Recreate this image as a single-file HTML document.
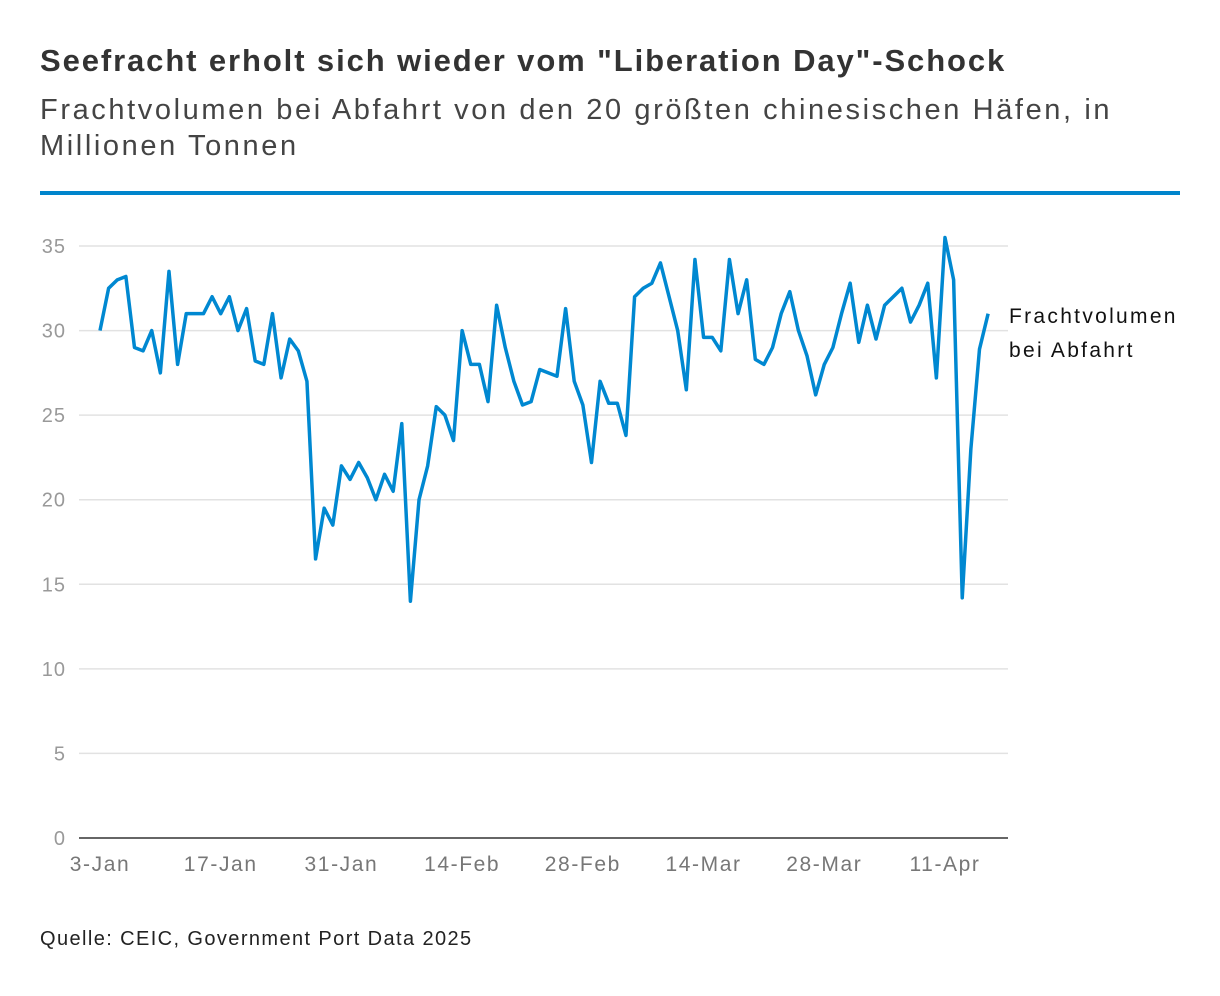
<!DOCTYPE html>
<html><head><meta charset="utf-8"><style>
body{margin:0;background:#fff;width:1220px;height:996px;overflow:hidden;font-family:"Liberation Sans","DejaVu Sans",sans-serif;color:#333}
.t{position:absolute;left:40px;top:43px;font-size:31px;font-weight:bold;color:#333;letter-spacing:1.9px;white-space:nowrap}
.s{position:absolute;left:40px;top:92px;font-size:29px;line-height:36px;color:#444;letter-spacing:2.6px;white-space:nowrap}
.rule{position:absolute;left:40px;top:191px;width:1140px;height:4px;background:#0085cc}
.src{position:absolute;left:40px;top:928px;font-size:20px;color:#222;letter-spacing:1.4px}
svg{position:absolute;left:0;top:0}
</style></head><body>
<div class="t">Seefracht erholt sich wieder vom "Liberation Day"-Schock</div>
<div class="s">Frachtvolumen bei Abfahrt von den 20 größten chinesischen Häfen, in<br>Millionen Tonnen</div>
<div class="rule"></div>
<svg id="c" width="1220" height="996"></svg>
<div class="src">Quelle: CEIC, Government Port Data 2025</div>
<script>
const values=[30,32.5,33,33.2,29,28.8,30,27.5,33.5,28,31,31,31,32,31,32,30,31.3,28.2,28,31,27.2,29.5,28.8,27,16.5,19.5,18.5,22,21.2,22.2,21.3,20,21.5,20.5,24.5,14,20,22,25.5,25,23.5,30,28,28,25.8,31.5,29,27,25.6,25.8,27.7,27.5,27.3,31.3,27,25.6,22.2,27,25.7,25.7,23.8,32,32.5,32.8,34,32,30,26.5,34.2,29.6,29.6,28.8,34.2,31,33,28.3,28,29,31,32.3,30,28.5,26.2,28,29,31,32.8,29.3,31.5,29.5,31.5,32,32.5,30.5,31.5,32.8,27.2,35.5,33,14.2,23,28.9,31];
const yTicks=[0,5,10,15,20,25,30,35];
const xTickLabels=["3-Jan","17-Jan","31-Jan","14-Feb","28-Feb","14-Mar","28-Mar","11-Apr"];
const xTickDays=[0,14,28,42,56,70,84,98];
const seriesLabel=["Frachtvolumen","bei Abfahrt"];
const NS="http://www.w3.org/2000/svg",svg=document.getElementById('c');
const x=d=>100+d*(945-100)/98;
const y=v=>838-v*(838-246)/35;
function mk(t,a,txt){const e=document.createElementNS(NS,t);for(const k in a)e.setAttribute(k,a[k]);if(txt!=null)e.textContent=txt;svg.appendChild(e);return e;}
yTicks.forEach(v=>{
 if(v>0){const g=mk('line',{x1:79,x2:1008,y1:y(v),y2:y(v),stroke:'#e2e2e2','stroke-width':1.5});
 
 }
 const t=mk('text',{x:66,y:y(v)+7,'text-anchor':'end','font-size':20,fill:'#999','letter-spacing':1,'font-family':'Liberation Sans, sans-serif'},v);
 
 
});
const ax=mk('line',{x1:79,x2:1008,y1:838,y2:838,stroke:'#333','stroke-width':1.5});


xTickDays.forEach((d,i)=>{
 const t=mk('text',{x:x(d),y:871,'text-anchor':'middle','font-size':21,fill:'#777','letter-spacing':1.6,'font-family':'Liberation Sans, sans-serif'},xTickLabels[i]);
 
 
});
const p=mk('polyline',{points:values.map((v,i)=>x(i)+','+y(v)).join(' '),fill:'none',stroke:'#0088d1','stroke-width':3.5,'stroke-linejoin':'round'});


seriesLabel.forEach((s,i)=>{
 const t=mk('text',{x:1009,y:323+i*34,'font-size':21,fill:'#111','letter-spacing':2.3,'font-family':'Liberation Sans, sans-serif'},s);
 
 
});
</script>
</body></html>
